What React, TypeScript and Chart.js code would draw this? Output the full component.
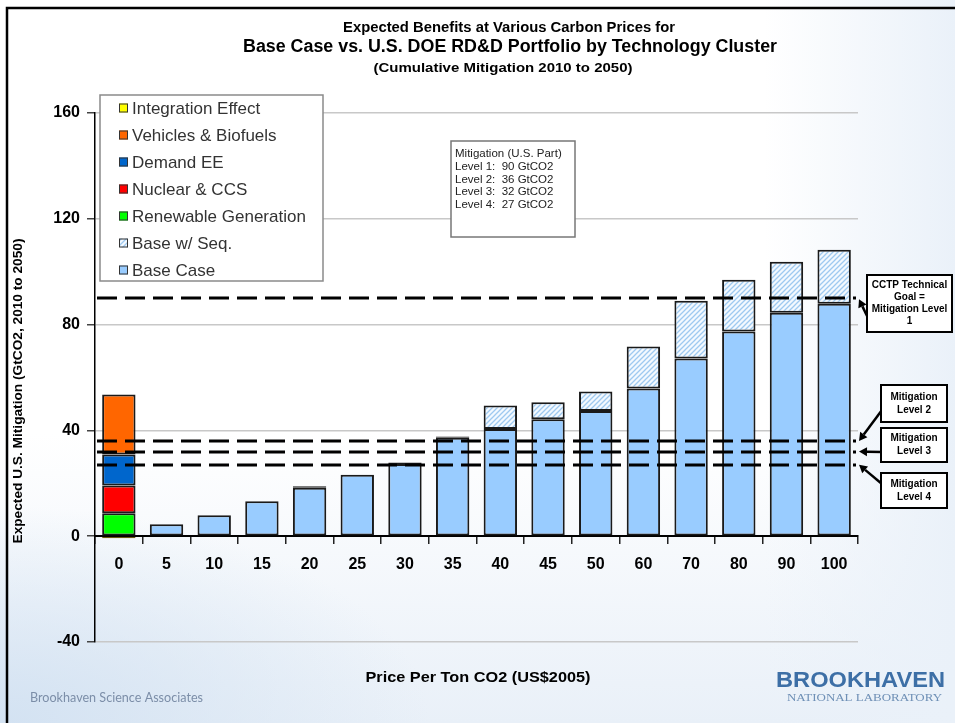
import React, { useEffect, useRef } from 'react';
import Chart from 'chart.js/auto';

// ---------- data ----------
const categories = ['0', '5', '10', '15', '20', '25', '30', '35', '40', '45', '50', '60', '70', '80', '90', '100'];
const renewableGeneration = [8.7, null, null, null, null, null, null, null, null, null, null, null, null, null, null, null];
const nuclearCCS = [10.5, null, null, null, null, null, null, null, null, null, null, null, null, null, null, null];
const demandEE = [11.7, null, null, null, null, null, null, null, null, null, null, null, null, null, null, null];
const vehiclesBiofuels = [22.7, null, null, null, null, null, null, null, null, null, null, null, null, null, null, null];
const integrationEffect = [-0.8, null, null, null, null, null, null, null, null, null, null, null, null, null, null, null];
const baseCase = [null, 4.5, 7.9, 13.2, 18.3, 23.2, 27.3, 37.2, 40.5, 44.2, 47.3, 55.8, 67.2, 77.4, 84.5, 87.9];
const baseWithSeq = [null, null, null, null, 0.6, null, 0.6, 0.5, 8.9, 6.4, 7.4, 15.9, 21.8, 19.6, 19.3, 20.4];

const yMin = -40;
const yMax = 160;
const yStep = 40;

const mitigationLevels = [90, 36, 32, 27];
const mitigationBoxLines = ['Mitigation (U.S. Part)', 'Level 1:  90 GtCO2', 'Level 2:  36 GtCO2', 'Level 3:  32 GtCO2', 'Level 4:  27 GtCO2'];
const levelBoxTexts = [
  ['CCTP Technical', 'Goal =', 'Mitigation Level', '1'],
  ['Mitigation', 'Level 2'],
  ['Mitigation', 'Level 3'],
  ['Mitigation', 'Level 4'],
];
const titleLines = [
  'Expected Benefits at Various Carbon Prices for',
  'Base Case vs. U.S. DOE RD&D Portfolio by Technology Cluster',
  '(Cumulative Mitigation 2010 to 2050)',
];
const xAxisTitle = 'Price Per Ton CO2 (US$2005)';
const yAxisTitle = 'Expected U.S. Mitigation (GtCO2, 2010 to 2050)';
const legendOrder = ['Integration Effect', 'Vehicles & Biofuels', 'Demand EE', 'Nuclear & CCS', 'Renewable Generation', 'Base w/ Seq.', 'Base Case'];

const FONT = '"Liberation Sans", Arial, sans-serif';

function makeHatch(): CanvasPattern | string {
  const c = document.createElement('canvas');
  c.width = 5;
  c.height = 5;
  const g = c.getContext('2d');
  if (!g) return '#cfe4f8';
  g.fillStyle = '#f3f9ff';
  g.fillRect(0, 0, 5, 5);
  g.strokeStyle = '#9ec9f0';
  g.lineWidth = 1.3;
  g.beginPath();
  g.moveTo(-1, 6); g.lineTo(6, -1);
  g.moveTo(-1, 1); g.lineTo(1, -1);
  g.moveTo(4, 6); g.lineTo(6, 4);
  g.stroke();
  const p = g.createPattern(c, 'repeat');
  return p || '#cfe4f8';
}

function fitText(ctx: CanvasRenderingContext2D, text: string, x: number, y: number, width: number, center = false) {
  const w = ctx.measureText(text).width;
  ctx.save();
  ctx.translate(center ? x - width / 2 : x, y);
  if (w > 0) ctx.scale(width / w, 1);
  ctx.textAlign = 'left';
  ctx.fillText(text, 0, 0);
  ctx.restore();
}

function arrow(ctx: CanvasRenderingContext2D, x1: number, y1: number, x2: number, y2: number) {
  const ang = Math.atan2(y2 - y1, x2 - x1);
  const hl = 8;
  const hw = 4.5;
  const bx = x2 - Math.cos(ang) * hl;
  const by = y2 - Math.sin(ang) * hl;
  ctx.beginPath();
  ctx.moveTo(x1, y1);
  ctx.lineTo(bx, by);
  ctx.stroke();
  ctx.beginPath();
  ctx.moveTo(x2, y2);
  ctx.lineTo(bx + Math.sin(ang) * hw, by - Math.cos(ang) * hw);
  ctx.lineTo(bx - Math.sin(ang) * hw, by + Math.cos(ang) * hw);
  ctx.closePath();
  ctx.fill();
}

const decorPlugin = {
  id: 'decor',
  afterDatasetsDraw(chart: any) {
    const ctx: CanvasRenderingContext2D = chart.ctx;
    const ys = chart.scales.y;
    const area = chart.chartArea;
    ctx.save();

    // dashed mitigation level lines
    ctx.strokeStyle = '#000';
    ctx.lineWidth = 3;
    ctx.setLineDash([20, 8]);
    mitigationLevels.forEach((v) => {
      const py = Math.round(ys.getPixelForValue(v));
      ctx.beginPath();
      ctx.moveTo(area.left + 2, py);
      ctx.lineTo(area.right - 2, py);
      ctx.stroke();
    });
    ctx.setLineDash([]);

    // level annotation boxes
    const boxes = [
      { x: 867, y: 275, w: 85, h: 57 },
      { x: 881, y: 385, w: 66, h: 37 },
      { x: 881, y: 428, w: 66, h: 34 },
      { x: 881, y: 473, w: 66, h: 35 },
    ];
    const arrowStarts = [
      [868, 318],
      [882, 410],
      [882, 452],
      [882, 484],
    ];
    ctx.lineWidth = 2.5;
    ctx.fillStyle = '#000';
    mitigationLevels.forEach((v, i) => {
      const py = ys.getPixelForValue(v);
      const [sx, sy] = arrowStarts[i];
      arrow(ctx, sx, sy, area.right + 1, py + (i === 0 ? 1 : 0));
    });
    boxes.forEach((b, i) => {
      ctx.fillStyle = '#fff';
      ctx.fillRect(b.x, b.y, b.w, b.h);
      ctx.strokeStyle = '#000';
      ctx.lineWidth = 2;
      ctx.strokeRect(b.x, b.y, b.w, b.h);
      ctx.fillStyle = '#000';
      ctx.font = `bold 10px ${FONT}`;
      ctx.textAlign = 'center';
      ctx.textBaseline = 'middle';
      const lines = levelBoxTexts[i];
      const lh = i === 0 ? 12 : 13;
      const start = b.y + b.h / 2 - ((lines.length - 1) * lh) / 2;
      lines.forEach((t, j) => ctx.fillText(t, b.x + b.w / 2, start + j * lh));
    });

    // legend box
    const lx = 100, ly = 95, lw = 223, lh2 = 186;
    ctx.fillStyle = '#fff';
    ctx.fillRect(lx, ly, lw, lh2);
    ctx.strokeStyle = '#8a8a8a';
    ctx.lineWidth = 1.5;
    ctx.strokeRect(lx, ly, lw, lh2);
    ctx.font = `17px ${FONT}`;
    ctx.textBaseline = 'middle';
    ctx.textAlign = 'left';
    legendOrder.forEach((label, i) => {
      const ds = chart.data.datasets.find((d: any) => d.label === label);
      const cy = 108 + i * 27;
      ctx.fillStyle = ds ? ds.backgroundColor : '#ccc';
      ctx.fillRect(119, cy - 4.5, 9, 9);
      ctx.strokeStyle = '#333';
      ctx.lineWidth = 1;
      ctx.strokeRect(119.5, cy - 4, 8, 8);
      ctx.fillStyle = '#333';
      ctx.fillText(label, 132, cy + 1);
    });

    // mitigation info box
    ctx.fillStyle = '#fff';
    ctx.fillRect(451, 141, 124, 96);
    ctx.strokeStyle = '#777';
    ctx.lineWidth = 1.5;
    ctx.strokeRect(451, 141, 124, 96);
    ctx.fillStyle = '#222';
    ctx.font = `11.5px ${FONT}`;
    ctx.textAlign = 'left';
    mitigationBoxLines.forEach((t, i) => ctx.fillText(t, 455, 154 + i * 12.7));

    ctx.restore();
  },
  afterDraw(chart: any) {
    const ctx: CanvasRenderingContext2D = chart.ctx;
    ctx.save();
    ctx.fillStyle = '#000';
    ctx.textBaseline = 'middle';
    // titles
    ctx.font = `bold 14px ${FONT}`;
    fitText(ctx, titleLines[0], 509, 28, 332, true);
    ctx.font = `bold 18px ${FONT}`;
    fitText(ctx, titleLines[1], 510, 47, 534, true);
    ctx.font = `bold 13.5px ${FONT}`;
    fitText(ctx, titleLines[2], 503, 68, 259, true);

    // x axis title
    ctx.font = `bold 15px ${FONT}`;
    fitText(ctx, xAxisTitle, 478, 678, 225, true);

    // y axis title
    ctx.save();
    ctx.translate(19, 391);
    ctx.rotate(-Math.PI / 2);
    ctx.font = `bold 12.5px ${FONT}`;
    fitText(ctx, yAxisTitle, 0, 0, 305, true);
    ctx.restore();

    // footer
    ctx.fillStyle = '#7c8ea8';
    ctx.font = `13px Lato, "Open Sans", sans-serif`;
    fitText(ctx, 'Brookhaven Science Associates', 30, 698, 173);
    ctx.fillStyle = '#3d6fa6';
    ctx.font = `bold 22px ${FONT}`;
    fitText(ctx, 'BROOKHAVEN', 776, 681, 169);
    ctx.fillStyle = '#6f90b6';
    ctx.font = `11px "Liberation Serif", "DejaVu Serif", serif`;
    fitText(ctx, 'NATIONAL LABORATORY', 787, 698, 155);

    // slide frame
    ctx.strokeStyle = '#000';
    ctx.lineWidth = 2.5;
    ctx.beginPath();
    ctx.moveTo(7, 723);
    ctx.lineTo(7, 8);
    ctx.lineTo(955, 8);
    ctx.stroke();
    ctx.restore();
  },
};

export default function App() {
  const ref = useRef<HTMLCanvasElement | null>(null);
  useEffect(() => {
    if (!ref.current) return;
    const hatch = makeHatch();
    const border = '#1a1a1a';
    const common = { borderColor: border, borderWidth: 2, borderSkipped: false, stack: 's' };
    const chart = new Chart(ref.current, {
      type: 'bar',
      data: {
        labels: categories,
        datasets: [
          { label: 'Renewable Generation', data: renewableGeneration, backgroundColor: '#00ff00', ...common },
          { label: 'Nuclear & CCS', data: nuclearCCS, backgroundColor: '#ff0000', ...common },
          { label: 'Demand EE', data: demandEE, backgroundColor: '#0066cc', ...common },
          { label: 'Vehicles & Biofuels', data: vehiclesBiofuels, backgroundColor: '#ff6600', ...common },
          { label: 'Integration Effect', data: integrationEffect, backgroundColor: '#ffff00', ...common, borderColor: '#6b5a10' },
          { label: 'Base Case', data: baseCase, backgroundColor: '#99ccff', ...common },
          { label: 'Base w/ Seq.', data: baseWithSeq, backgroundColor: hatch, ...common },
        ] as any,
      },
      options: {
        animation: false,
        responsive: false,
        devicePixelRatio: 1,
        layout: { padding: { top: 113, bottom: 81, left: 0, right: 97 } },
        datasets: { bar: { barPercentage: 0.7, categoryPercentage: 1 } },
        plugins: { legend: { display: false }, tooltip: { enabled: false }, title: { display: false } },
        scales: {
          x: {
            type: 'category',
            stacked: true,
            position: { y: 0 } as any,
            offset: true,
            grid: { display: true, drawOnChartArea: false, offset: true, tickLength: 7, tickColor: '#222', lineWidth: 1.5 },
            border: { display: true, color: '#000', width: 2 },
            ticks: { color: '#000', font: { family: FONT, size: 16, weight: 'bold' }, padding: 12, maxRotation: 0, autoSkip: false },
          },
          y: {
            stacked: true,
            min: yMin,
            max: yMax,
            afterFit: (s: any) => { s.width = 95; },
            grid: {
              color: (c: any) => (c.tick && c.tick.value === 0 ? 'rgba(0,0,0,0)' : '#c8c8c8'),
              lineWidth: 1.5,
              tickLength: 8,
              tickColor: '#444',
            },
            border: { display: true, color: '#000', width: 1.5 },
            ticks: { stepSize: yStep, color: '#000', font: { family: FONT, size: 16, weight: 'bold' }, padding: 7 },
          },
        },
      } as any,
      plugins: [decorPlugin],
    });
    return () => chart.destroy();
  }, []);
  return (
    <div
      style={{
        position: 'absolute',
        left: 0,
        top: 0,
        width: 955,
        height: 723,
        overflow: 'hidden',
        background:
          'radial-gradient(ellipse 45% 30% at 0% 100%, #d3e2f2 0%, rgba(255,255,255,0) 100%), linear-gradient(90deg, rgba(255,255,255,0) 80%, #eaf1f9 100%), linear-gradient(180deg, #ffffff 0%, #ffffff 60%, #e9f0f8 100%)',
      }}
    >
      <canvas ref={ref} width={955} height={723} style={{ display: 'block', width: 955, height: 723 }} />
    </div>
  );
}
